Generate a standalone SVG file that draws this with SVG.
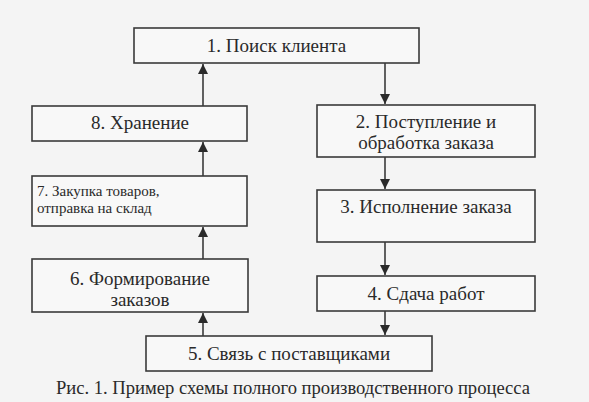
<svg xmlns="http://www.w3.org/2000/svg" width="589" height="402" viewBox="0 0 589 402">
<defs>
<style>
.box{fill:#f8f8f8;stroke:#3a3a3a;stroke-width:1.6}
.t{font-family:'Liberation Serif','DejaVu Serif',serif;font-size:19px;fill:#2a2a2a;text-anchor:middle}
.s{font-family:'Liberation Serif','DejaVu Serif',serif;font-size:15px;fill:#2a2a2a}
.c{stroke:#3a3a3a;stroke-width:1.6;fill:none;marker-end:url(#ah)}
</style>
<marker id="ah" viewBox="0 0 10 10" refX="10" refY="5" markerWidth="10" markerHeight="10" markerUnits="userSpaceOnUse" orient="auto">
<path d="M0,0 L10,5 L0,10 Z" fill="#2a2a2a"/>
</marker>
</defs>
<rect width="589" height="402" fill="#f4f4f4"/>
<g id="connectors">
<line class="c" x1="203" y1="106" x2="203" y2="64"/>
<line class="c" x1="203" y1="176" x2="203" y2="142"/>
<line class="c" x1="203" y1="259" x2="203" y2="227"/>
<line class="c" x1="203" y1="336" x2="203" y2="313"/>
<line class="c" x1="385" y1="63" x2="385" y2="104"/>
<line class="c" x1="385" y1="157" x2="385" y2="189"/>
<line class="c" x1="385" y1="242" x2="385" y2="275"/>
<line class="c" x1="385" y1="311" x2="385" y2="335"/>
</g>
<g id="n1"><rect class="box" x="134" y="28" width="285" height="35"/><text class="t" x="276.5" y="52">1. Поиск клиента</text></g>
<g id="n8"><rect class="box" x="32" y="106" width="215" height="35"/><text class="t" x="140" y="129">8. Хранение</text></g>
<g id="n2"><rect class="box" x="317" y="105" width="218" height="52"/><text class="t" x="426" y="128">2. Поступление и</text><text class="t" x="426" y="149">обработка заказа</text></g>
<g id="n7"><rect class="box" x="32" y="176" width="215" height="50"/><text class="s" x="37" y="196">7. Закупка товаров,</text><text class="s" x="37" y="213">отправка на склад</text></g>
<g id="n3"><rect class="box" x="317" y="190" width="218" height="52"/><text class="t" x="426" y="213">3. Исполнение заказа</text></g>
<g id="n6"><rect class="box" x="32" y="259" width="216" height="53"/><text class="t" x="140" y="285">6. Формирование</text><text class="t" x="140" y="306">заказов</text></g>
<g id="n4"><rect class="box" x="317" y="276" width="218" height="35"/><text class="t" x="426" y="300">4. Сдача работ</text></g>
<g id="n5"><rect class="box" x="146" y="336" width="286" height="35"/><text class="t" x="289" y="360">5. Связь с поставщиками</text></g>
<text class="t" x="293" y="394" style="font-size:18.6px">Рис. 1. Пример схемы полного производственного процесса</text>
</svg>
